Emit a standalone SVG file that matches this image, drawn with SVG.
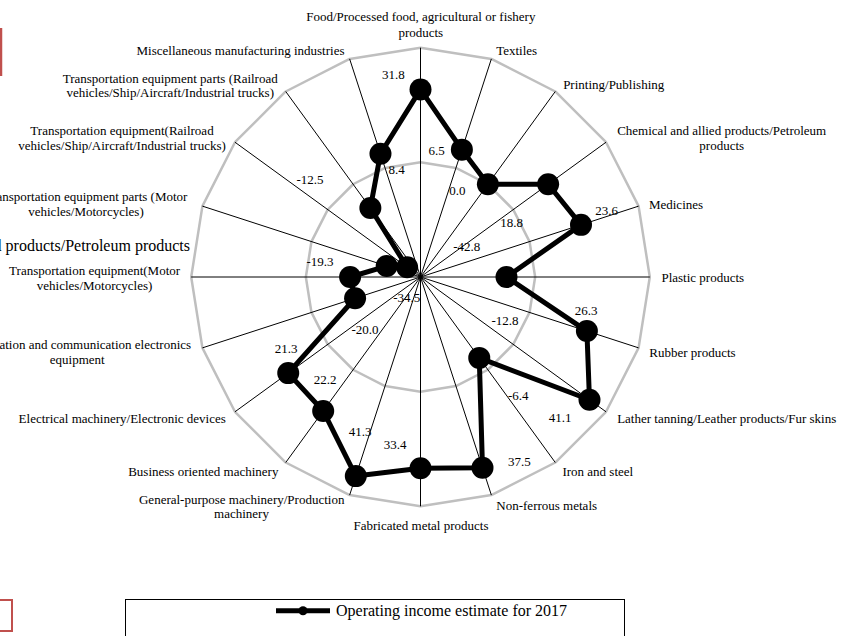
<svg xmlns="http://www.w3.org/2000/svg" width="846" height="636" viewBox="0 0 846 636">
<style>
text{font-family:"Liberation Serif","Times New Roman",serif;fill:#000}
.cat{font-size:13px;text-anchor:middle}
.val{font-size:13px;text-anchor:middle}
.grid{fill:none;stroke:#bfbfbf;stroke-width:2.5;stroke-linejoin:round}
.spoke{stroke:#000;stroke-width:1}
.series{fill:none;stroke:#000;stroke-width:5;stroke-linejoin:round}
.mk{fill:#000}
</style>
<rect width="846" height="636" fill="#fff"/>
<g id="frame-marks">
<line x1="1" y1="28" x2="1" y2="76" stroke="#c0504d" stroke-width="2.5"/>
<rect x="-20" y="600" width="32" height="31" fill="none" stroke="#c0504d" stroke-width="2"/>
</g>
<g id="grid">
<polygon class="grid" points="420.5,47.7 491.36,58.92 555.28,91.49 606.01,142.22 638.58,206.14 649.8,277 638.58,347.86 606.01,411.78 555.28,462.51 491.36,495.08 420.5,506.3 349.64,495.08 285.72,462.51 234.99,411.78 202.42,347.86 191.2,277 202.42,206.14 234.99,142.22 285.72,91.49 349.64,58.92"/>
<polygon class="grid" points="420.5,162.35 455.93,167.96 487.89,184.25 513.25,209.61 529.54,241.57 535.15,277 529.54,312.43 513.25,344.39 487.89,369.75 455.93,386.04 420.5,391.65 385.07,386.04 353.11,369.75 327.75,344.39 311.46,312.43 305.85,277 311.46,241.57 327.75,209.61 353.11,184.25 385.07,167.96"/>
</g>
<g id="connectors">
<line class="spoke" x1="420.5" y1="277" x2="420.5" y2="47.7" stroke-width="1.8"/>
<line class="spoke" x1="420.5" y1="277" x2="491.36" y2="58.92"/>
<line class="spoke" x1="420.5" y1="277" x2="555.28" y2="91.49"/>
<line class="spoke" x1="420.5" y1="277" x2="606.01" y2="142.22"/>
<line class="spoke" x1="420.5" y1="277" x2="638.58" y2="206.14"/>
<line class="spoke" x1="420.5" y1="277" x2="649.8" y2="277" stroke="#444"/>
<line class="spoke" x1="420.5" y1="277" x2="638.58" y2="347.86"/>
<line class="spoke" x1="420.5" y1="277" x2="606.01" y2="411.78"/>
<line class="spoke" x1="420.5" y1="277" x2="555.28" y2="462.51"/>
<line class="spoke" x1="420.5" y1="277" x2="491.36" y2="495.08"/>
<line class="spoke" x1="420.5" y1="277" x2="420.5" y2="506.3" stroke-width="1.5"/>
<line class="spoke" x1="420.5" y1="277" x2="349.64" y2="495.08"/>
<line class="spoke" x1="420.5" y1="277" x2="285.72" y2="462.51"/>
<line class="spoke" x1="420.5" y1="277" x2="234.99" y2="411.78"/>
<line class="spoke" x1="420.5" y1="277" x2="202.42" y2="347.86"/>
<line class="spoke" x1="420.5" y1="277" x2="191.2" y2="277" stroke="#444"/>
<line class="spoke" x1="420.5" y1="277" x2="202.42" y2="206.14"/>
<line class="spoke" x1="420.5" y1="277" x2="234.99" y2="142.22"/>
<line class="spoke" x1="420.5" y1="277" x2="285.72" y2="91.49"/>
<line class="spoke" x1="420.5" y1="277" x2="349.64" y2="58.92"/>
</g>
<g id="series">
<polygon class="series" points="420.5,89.43 461.88,149.64 487.89,184.25 548.13,184.27 581,224.85 506.49,277 586.9,331.07 589.49,399.78 479.26,357.88 482.5,467.82 420.5,468.24 355.81,476.1 323.19,410.93 288.23,373.1 355.08,298.26 350.1,277 386.7,266.02 407.14,267.3 370.36,207.99 380.47,153.79"/>
<g class="mk">
<circle cx="420.5" cy="89.43" r="11"/>
<circle cx="461.88" cy="149.64" r="11"/>
<circle cx="487.89" cy="184.25" r="11"/>
<circle cx="548.13" cy="184.27" r="11"/>
<circle cx="581" cy="224.85" r="11"/>
<circle cx="506.49" cy="277" r="11"/>
<circle cx="586.9" cy="331.07" r="11"/>
<circle cx="589.49" cy="399.78" r="11"/>
<circle cx="479.26" cy="357.88" r="11"/>
<circle cx="482.5" cy="467.82" r="11"/>
<circle cx="420.5" cy="468.24" r="11"/>
<circle cx="355.81" cy="476.1" r="11"/>
<circle cx="323.19" cy="410.93" r="11"/>
<circle cx="288.23" cy="373.1" r="11"/>
<circle cx="355.08" cy="298.26" r="11"/>
<circle cx="350.1" cy="277" r="11"/>
<circle cx="386.7" cy="266.02" r="11"/>
<circle cx="407.14" cy="267.3" r="11"/>
<circle cx="370.36" cy="207.99" r="11"/>
<circle cx="380.47" cy="153.79" r="11"/>
</g>
</g>
<g id="value-labels">
<text class="val" x="393.3" y="78.5">31.8</text>
<text class="val" x="396.7" y="173.8">8.4</text>
<text class="val" x="310" y="183.8">-12.5</text>
<text class="val" x="320" y="265.5">-19.3</text>
<text class="val" x="436.7" y="154.5">6.5</text>
<text class="val" x="457.3" y="195.2">0.0</text>
<text class="val" x="511.7" y="227.2">18.8</text>
<text class="val" x="466.7" y="251.2">-42.8</text>
<text class="val" x="606.7" y="214.5">23.6</text>
<text class="val" x="406.7" y="302.2">-34.5</text>
<text class="val" x="365" y="333.8">-20.0</text>
<text class="val" x="286" y="352.8">21.3</text>
<text class="val" x="325" y="383.8">22.2</text>
<text class="val" x="360" y="436.2">41.3</text>
<text class="val" x="395" y="448.5">33.4</text>
<text class="val" x="505" y="324.5">-12.8</text>
<text class="val" x="586" y="315.2">26.3</text>
<text class="val" x="518.3" y="399.5">-6.4</text>
<text class="val" x="560" y="422.2">41.1</text>
<text class="val" x="519.3" y="466.2">37.5</text>
</g>
<g id="category-labels">
<g id="cat-food"><text class="cat" x="420.8" y="21">Food/Processed food, agricultural or fishery</text><text class="cat" x="420.8" y="36.5">products</text></g>
<g id="cat-textiles"><text class="cat" x="516.7" y="55">Textiles</text></g>
<g id="cat-printing"><text class="cat" x="613.7" y="89.3">Printing/Publishing</text></g>
<g id="cat-chemical"><text class="cat" x="721.7" y="135">Chemical and allied products/Petroleum</text><text class="cat" x="721.7" y="150">products</text></g>
<g id="cat-medicines"><text class="cat" x="676" y="209.3">Medicines</text></g>
<g id="cat-plastic"><text class="cat" x="702.8" y="281.6">Plastic products</text></g>
<g id="cat-rubber"><text class="cat" x="692.5" y="357">Rubber products</text></g>
<g id="cat-leather"><text class="cat" x="726.7" y="422.6">Lather tanning/Leather products/Fur skins</text></g>
<g id="cat-iron"><text class="cat" x="597.8" y="476">Iron and steel</text></g>
<g id="cat-nonferrous"><text class="cat" x="546.7" y="510.3">Non-ferrous metals</text></g>
<g id="cat-fabricated"><text class="cat" x="421" y="530.3">Fabricated metal products</text></g>
<g id="cat-general"><text class="cat" x="241.7" y="503.6">General-purpose machinery/Production</text><text class="cat" x="241.5" y="518.3">machinery</text></g>
<g id="cat-business"><text class="cat" x="203.3" y="476">Business oriented machinery</text></g>
<g id="cat-electrical"><text class="cat" x="122.2" y="422.6">Electrical machinery/Electronic devices</text></g>
<g id="cat-info"><text class="cat" x="77.2" y="349.3">Information and communication electronics</text><text class="cat" x="77.2" y="364.3">equipment</text></g>
<g id="cat-trans-motor"><text class="cat" x="94.6" y="275">Transportation equipment(Motor</text><text class="cat" x="94.6" y="290">vehicles/Motorcycles)</text></g>
<g id="cat-overlap"><text x="190" y="250.5" font-size="16" text-anchor="end">Chemical and allied products/Petroleum products</text></g>
<g id="cat-trans-parts-motor"><text class="cat" x="86" y="201">Transportation equipment parts (Motor</text><text class="cat" x="86" y="216">vehicles/Motorcycles)</text></g>
<g id="cat-trans-rail"><text class="cat" x="122" y="135.3">Transportation equipment(Railroad</text><text class="cat" x="122" y="150.3">vehicles/Ship/Aircraft/Industrial trucks)</text></g>
<g id="cat-trans-parts-rail"><text class="cat" x="170.2" y="82.6">Transportation equipment parts (Railroad</text><text class="cat" x="170.2" y="97">vehicles/Ship/Aircraft/Industrial trucks)</text></g>
<g id="cat-misc"><text class="cat" x="240.5" y="55.3">Miscellaneous manufacturing industries</text></g>
</g>
<g id="legend">
<rect x="125.5" y="599.5" width="499" height="50" fill="#fff" stroke="#000" stroke-width="1"/>
<line x1="276" y1="610.7" x2="330" y2="610.7" stroke="#000" stroke-width="5"/>
<circle cx="303" cy="610.7" r="4.5" fill="#000"/>
<text x="336" y="616" font-size="16">Operating income estimate for 2017</text>
</g>
</svg>
